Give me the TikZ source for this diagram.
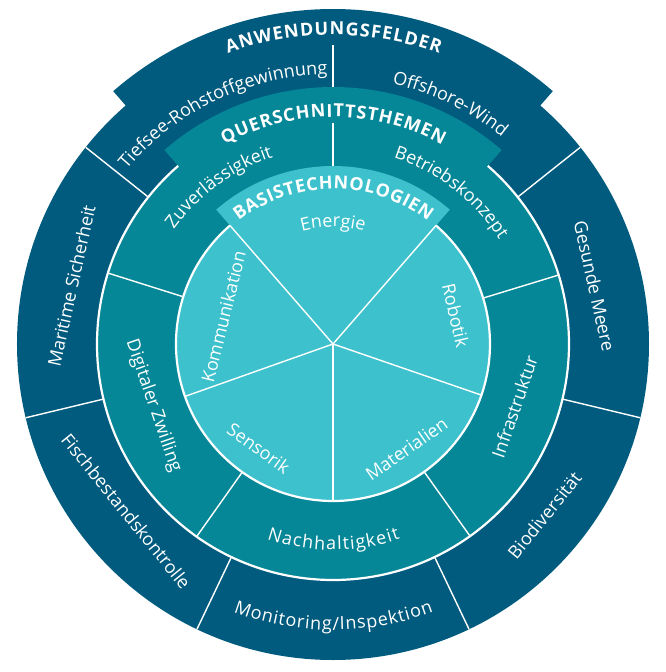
\documentclass[tikz,border=0pt]{standalone}
\usepackage{fontspec}
\setmainfont{Open Sans}
\usetikzlibrary{decorations.text}
\definecolor{outerc}{HTML}{005B7E}
\definecolor{midc}{HTML}{068797}
\definecolor{innerc}{HTML}{3CC1CD}
\newcommand\lblfont{\fontsize{18}{20}\selectfont}
\newcommand\ttlfont{\bfseries\fontsize{18}{20}\selectfont}
\begin{document}
\begin{tikzpicture}[x=1pt,y=1pt,
  sep/.style={white, line width=1.4pt},
  ringline/.style={white, line width=2.2pt},
  lbl/.style={text=white, font=\lblfont, inner sep=0pt},
  curv/.style 2 args={decorate, decoration={text along path, text align=center, text={|\color{white}\lblfont\kern#1|#2}}},
  ttl/.style 2 args={decorate, decoration={text along path, text align=center, text={|\color{white}\ttlfont\kern#1|#2}}}]
\useasboundingbox (-333,-328) rectangle (333,344);
% outer ring (Anwendungsfelder)
\fill[outerc] (0,0) circle[radius=316];
\fill[outerc] (0,0) -- (49:335) arc[start angle=49,end angle=131,radius=335] -- cycle;
% middle ring (Querschnittsthemen)
\fill[midc] (0,0) circle[radius=236];
\fill[midc] (0,0) -- (49:257) arc[start angle=49,end angle=131,radius=257] -- cycle;
% inner pie (Basistechnologien)
\fill[innerc] (0,0) circle[radius=157];
\fill[innerc] (0,0) -- (49:178) arc[start angle=49,end angle=131,radius=178] -- cycle;
% white circle lines
\draw[ringline] (131:157) arc[start angle=131,end angle=409,radius=157];
\draw[ringline] (131:236) arc[start angle=131,end angle=409,radius=236];
% inner dividers
\foreach \a in {49,131,199.5,270,341} \draw[sep] (0,0) -- (\a:157);
% middle dividers
\foreach \a in {17,162.5,234.7,305.5} \draw[sep] (\a:157) -- (\a:236);
\draw[sep] (90:178) -- (90:221);
% outer dividers
\foreach \a in {38.5,141.5,193.5,244.5,295.5,346.5} \draw[sep] (\a:236) -- (\a:316);
\draw[sep] (90:257) -- (90:299);
% titles
\path[ttl={1.1pt}{ANWENDUNGSFELDER}] (135:309) arc[start angle=135,end angle=45,radius=309];
\path[ttl={0.85pt}{QUERSCHNITTSTHEMEN}] (140:227) arc[start angle=140,end angle=40,radius=227];
\path[ttl={0.65pt}{BASISTECHNOLOGIEN}] (150:155) arc[start angle=150,end angle=30,radius=155];
% curved labels
\path[curv={0pt}{Tiefsee-Rohstoffgewinnung}] (160.5:270) arc[start angle=160.5,end angle=70.5,radius=270];
\path[curv={0pt}{Offshore-Wind}] (104:267) arc[start angle=104,end angle=24,radius=267];
\path[curv={0pt}{Zuverlässigkeit}] (171:196) arc[start angle=171,end angle=81,radius=196];
\path[curv={0pt}{Betriebskonzept}] (97:196) arc[start angle=97,end angle=7,radius=196];
\path[curv={0pt}{Energie}] (130:117) arc[start angle=130,end angle=50,radius=117];
\path[curv={1.2pt}{Nachhaltigkeit}] (220:206) arc[start angle=220,end angle=320,radius=206];
\path[curv={0.85pt}{Monitoring/Inspektion}] (222:286) arc[start angle=222,end angle=318,radius=286];
% straight labels
\node[lbl, rotate=77.5] (maritime) at (167.5:268) {Maritime Sicherheit};
\node[lbl, rotate=-77.5] (gesund) at (12.5:268) {Gesunde Meere};
\node[lbl, rotate=309] (fisch) at (219:266) {Fischbestandskontrolle};
\node[lbl, rotate=51] (bio) at (321:272) {Biodiversität};
\node[lbl, rotate=289] (zwilling) at (199:190) {Digitaler Zwilling};
\node[lbl, rotate=71] (infra) at (-19:192) {Infrastruktur};
\node[lbl, rotate=76] (komm) at (166:113) {Kommunikation};
\node[lbl, rotate=-77] (robotik) at (13:126) {Robotik};
\node[lbl, rotate=-35.5] (sensorik) at (234.5:128) {Sensorik};
\node[lbl, rotate=35] (material) at (305:128) {Materialien};
\end{tikzpicture}
\end{document}
